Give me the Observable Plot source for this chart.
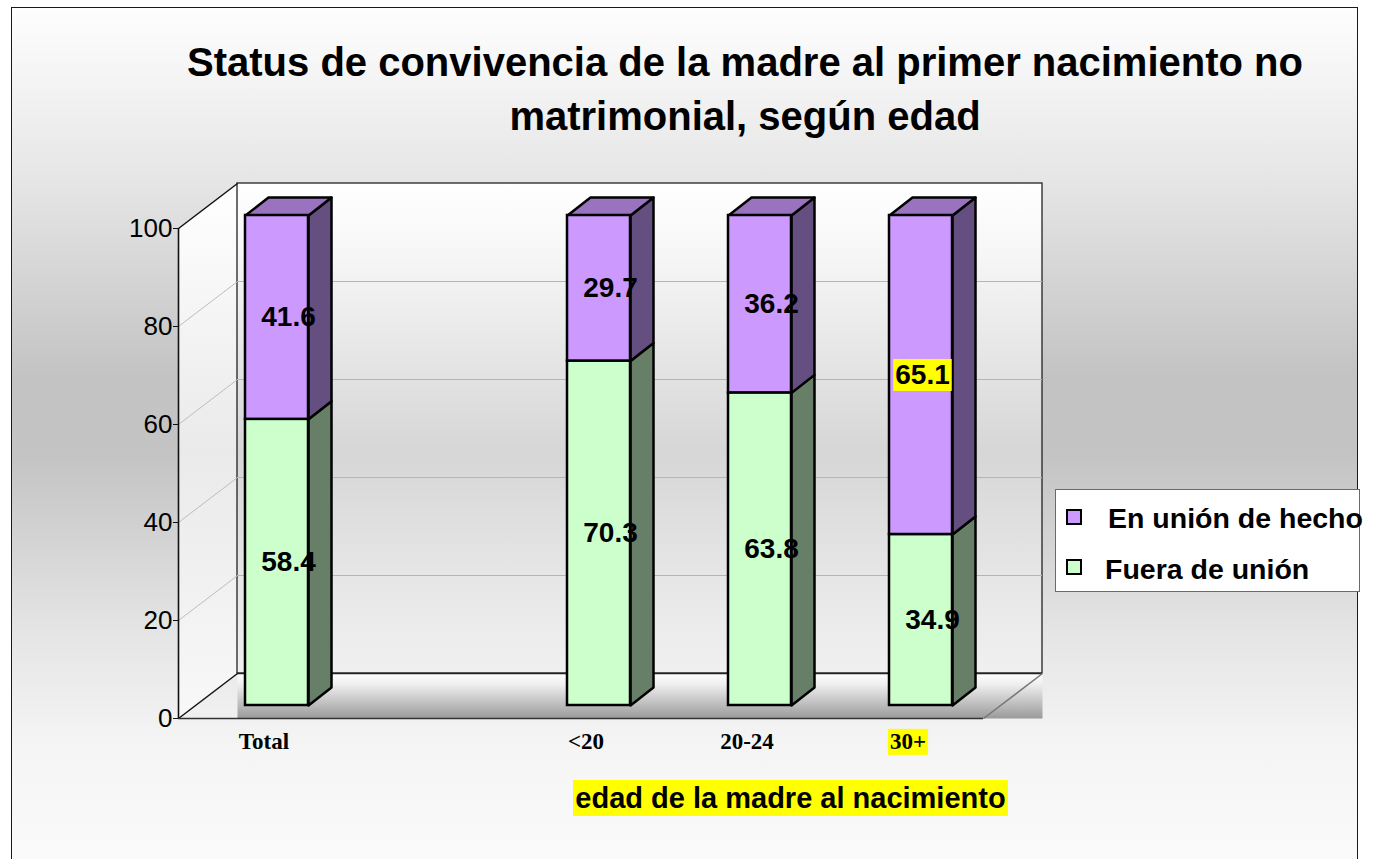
<!DOCTYPE html>
<html>
<head>
<meta charset="utf-8">
<script src="https://cdn.jsdelivr.net/npm/d3@7"></script>
<script src="https://cdn.jsdelivr.net/npm/@observablehq/plot@0.6"></script>
<style>
  html, body { margin: 0; padding: 0; background: #fff; }
  #wrap { position: relative; width: 1380px; height: 859px; overflow: hidden; background: #fff;
          font-family: "Liberation Sans", Arial, sans-serif; }
  #frame { position: absolute; left: 11px; top: 7px; width: 1347px; height: 900px;
           border: 1.5px solid #1a1a1a; box-sizing: border-box;
           background: linear-gradient(to bottom, #fefefe 0px, #e6e6e6 170px, #c3c3c3 370px, #c4c4c4 450px, #e4e4e4 620px, #f5f5f5 740px, #fafafa 852px); }
  #chart { position: absolute; left: 0; top: 0; }
  #title { position: absolute; left: 0; top: 35px; width: 1490px; text-align: center;
           font-size: 40px; line-height: 54px; font-weight: bold; color: #000; }
  #legend { position: absolute; left: 1055px; top: 489px; width: 305px; height: 103px;
            box-sizing: border-box; border: 1px solid #6a6a6a; background: #fff; overflow: visible; }
  .lg-item { position: absolute; white-space: nowrap; font-size: 28.5px; font-weight: bold; line-height: 32px; }
  .lg-sw { position: absolute; width: 12px; height: 12px; border: 2px solid #000; }
  #xtitle { position: absolute; left: 573px; top: 780px; width: 435px; height: 36px; background: #ffff00;
            text-align: center; font-size: 29px; line-height: 36px; font-weight: bold; white-space: nowrap; }
</style>
</head>
<body>
<div id="wrap">
  <div id="frame"></div>
  <div id="chart"></div>
  <div id="title"></div>
  <div id="legend"></div>
  <div id="xtitle"></div>
</div>
<script>
// ---------- data ----------
const categories = ["Total", "", "<20", "20-24", "30+"];
const fueraDeUnion = [58.4, null, 70.3, 63.8, 34.9];
const enUnionDeHecho = [41.6, null, 29.7, 36.2, 65.1];
const yTicks = [0, 20, 40, 60, 80, 100];
const seriesNames = ["En unión de hecho", "Fuera de unión"];
const highlightCategories = ["30+"];
const highlightValues = [65.1];
const titleLines = ["Status de convivencia de la madre al primer nacimiento no", "matrimonial, según edad"];
const xTitle = "edad de la madre al nacimiento";

// ---------- styles ----------
const palette = {
  union: { front: "#CC99FF", side: "#654E80", top: "#9973C0" },
  fuera: { front: "#CCFFCC", side: "#667F66", top: "#99BF99" }
};

const W = 1380, H = 859, mL = 178, mR = 397, mT = 228, mB = 141;
const xDomain = [-0.5, categories.length - 0.5];
const KX = (W - mL - mR) / (xDomain[1] - xDomain[0]);   // px per category unit
const KY = (H - mT - mB) / 100;                          // px per value unit
// 3D geometry in pixels
const WALL_DX = 59, WALL_DY = 45;   // depth of floor / back wall
const BAR_OX = 18, BAR_OY = 13;     // bar front offset from front plane
const BAR_DX = 23, BAR_DY = 18;     // bar depth
const BAR_HALF = 31.5;              // half width of bar front face

const wx = WALL_DX / KX, wy = WALL_DY / KY;
const hw = BAR_HALF / KX, bd = BAR_DX / KX, be = BAR_DY / KY;

// ---------- derived geometry ----------
const segs = [];
categories.forEach((c, i) => {
  if (fueraDeUnion[i] == null) return;
  const f = fueraDeUnion[i], u = enUnionDeHecho[i];
  segs.push({ i, cat: c, series: "fuera", y0: 0, y1: f, value: f, isTop: false });
  segs.push({ i, cat: c, series: "union", y0: f, y1: f + u, value: u, isTop: true });
});

function sidePoly(s) {
  const xr = s.i + hw, k = s.cat + s.series;
  return [[xr, s.y0], [xr + bd, s.y0 + be], [xr + bd, s.y1 + be], [xr, s.y1], [xr, s.y0]]
    .map(([x, y]) => ({ x, y, k }));
}
function topPoly(s) {
  const xl = s.i - hw, xr = s.i + hw, k = s.cat + "top";
  return [[xl, s.y1], [xr, s.y1], [xr + bd, s.y1 + be], [xl + bd, s.y1 + be], [xl, s.y1]]
    .map(([x, y]) => ({ x, y, k }));
}
const sides = (ser) => segs.filter(s => s.series === ser).flatMap(sidePoly);
const tops = (ser) => segs.filter(s => s.series === ser && s.isTop).flatMap(topPoly);

const x0 = xDomain[0], x1 = xDomain[1];
const sideWall = [[x0, 0], [x0 + wx, wy], [x0 + wx, 100 + wy], [x0, 100]].map(([x, y]) => ({ x, y }));
const floorShade = [[x0 + wx, wy], [x1 + wx, wy], [x1 + wx, 0], [x0 + wx, 0]].map(([x, y]) => ({ x, y }));
const innerTicks = yTicks.filter(v => v > 0 && v < 100);
const edgeTicks = yTicks.filter(v => v === 0 || v === 100);

const tickData = categories.map((c, i) => ({ i, c })).filter(d => d.c !== "");
const labelText = d => d.value.toFixed(1);
const isHL = d => highlightValues.includes(d.value);

const frontMark = (ser) => Plot.rect(segs.filter(s => s.series === ser), {
  x1: d => d.i - hw, x2: d => d.i + hw, y1: "y0", y2: "y1",
  dx: BAR_OX, dy: -BAR_OY, fill: palette[ser].front, stroke: "#000", strokeWidth: 2.5
});
const polyMark = (pts, fill) => Plot.line(pts, {
  x: "x", y: "y", z: "k", dx: BAR_OX, dy: -BAR_OY, fill, stroke: "#000", strokeWidth: 2.5, strokeLinejoin: "round"
});

const chart = Plot.plot({
  width: W, height: H,
  marginLeft: mL, marginRight: mR, marginTop: mT, marginBottom: mB,
  x: { type: "linear", domain: xDomain, axis: null },
  y: { domain: [0, 100], axis: null },
  style: { background: "transparent", fontFamily: "'Liberation Sans', Arial, sans-serif", overflow: "visible" },
  marks: [
    Plot.line(sideWall, { x: "x", y: "y", fill: "url(#gSide)", stroke: "none" }),
    Plot.rect([0], { x1: x0, x2: x1, y1: 0, y2: 100, dx: WALL_DX, dy: -WALL_DY, fill: "url(#gBack)", stroke: "#222", strokeWidth: 1.3 }),
    Plot.line(floorShade, { x: "x", y: "y", fill: "url(#gFloor)", stroke: "none" }),
    Plot.ruleY([0], { x1: x0, x2: x1, dx: WALL_DX, dy: -WALL_DY, stroke: "#222", strokeWidth: 1.5 }),
    Plot.ruleY(innerTicks, { x1: x0, x2: x1, dx: WALL_DX, dy: -WALL_DY, stroke: "#b5b5b5", strokeWidth: 1 }),
    Plot.link(innerTicks, { x1: x0, y1: d => d, x2: x0 + wx, y2: d => d + wy, stroke: "#bdbdbd", strokeWidth: 1 }),
    Plot.link(edgeTicks, { x1: x0, y1: d => d, x2: x0 + wx, y2: d => d + wy, stroke: "#111", strokeWidth: 1.5 }),
    Plot.link([0], { x1: x1, y1: 0, x2: x1 + wx, y2: wy, stroke: "#777", strokeWidth: 1.5 }),
    Plot.ruleY([0], { x1: x0, x2: x1, stroke: "#333", strokeWidth: 1.6 }),
    Plot.ruleX([x0], { y1: 0, y2: 100, stroke: "#111", strokeWidth: 1.6 }),
    Plot.axisY(yTicks, { tickSize: 5, tickPadding: 1, fontSize: 26, label: null, stroke: "#111" }),
    // bars
    polyMark(sides("fuera"), palette.fuera.side),
    polyMark(sides("union"), palette.union.side),
    polyMark(tops("union"), palette.union.top),
    frontMark("fuera"),
    frontMark("union"),
    // value labels
    Plot.text(segs.filter(d => !isHL(d)), {
      x: "i", y: d => (d.y0 + d.y1) / 2, text: labelText, dx: BAR_OX + BAR_DX / 2, dy: -BAR_OY,
      fontSize: 28, fontWeight: "bold", fill: "#000"
    }),
    Plot.text(segs.filter(isHL), {
      x: "i", y: d => (d.y0 + d.y1) / 2, text: labelText, dx: BAR_OX + BAR_DX / 2 - 10, dy: -BAR_OY,
      fontSize: 28, fontWeight: "bold", fill: "#000"
    }),
    // category labels
    Plot.text(tickData, {
      x: "i", y: 0, text: "c", dx: 5, dy: 23, fontSize: 23, fontWeight: "bold",
      fontFamily: "'Liberation Serif', 'Times New Roman', serif", fill: "#000"
    })
  ]
});

document.getElementById("chart").appendChild(chart);

// gradients
const NS = "http://www.w3.org/2000/svg";
const defs = document.createElementNS(NS, "defs");
function grad(id, stops) {
  const g = document.createElementNS(NS, "linearGradient");
  g.setAttribute("id", id); g.setAttribute("x1", "0"); g.setAttribute("y1", "0");
  g.setAttribute("x2", "0"); g.setAttribute("y2", "1");
  stops.forEach(([o, c]) => {
    const s = document.createElementNS(NS, "stop");
    s.setAttribute("offset", o); s.setAttribute("stop-color", c);
    g.appendChild(s);
  });
  defs.appendChild(g);
}
grad("gBack", [[0, "#ffffff"], [0.15, "#f6f6f6"], [0.55, "#d6d6d6"], [0.8, "#e6e6e6"], [1, "#f0f0f0"]]);
grad("gSide", [[0, "#ffffff"], [0.5, "#eaeaea"], [1, "#f8f8f8"]]);
grad("gFloor", [[0, "#ffffff"], [0.25, "#eeeeee"], [1, "#9a9a9a"]]);
chart.insertBefore(defs, chart.firstChild);

// yellow highlight boxes behind highlighted texts
const hlTexts = new Set([...highlightCategories, ...highlightValues.map(v => v.toFixed(1))]);
chart.querySelectorAll("text").forEach(t => {
  if (!hlTexts.has(t.textContent.trim())) return;
  const b = t.getBBox();
  const r = document.createElementNS(NS, "rect");
  const p = 2;
  r.setAttribute("x", b.x - p); r.setAttribute("y", b.y);
  r.setAttribute("width", b.width + 2 * p); r.setAttribute("height", b.height + 1);
  r.setAttribute("fill", "#ffff00");
  const tr = t.getAttribute("transform"); if (tr) r.setAttribute("transform", tr);
  t.parentNode.insertBefore(r, t);
});

// title
document.getElementById("title").innerHTML = titleLines.join("<br>");
document.getElementById("xtitle").textContent = xTitle;

// legend
const legend = document.getElementById("legend");
const legendColors = [palette.union.front, palette.fuera.front];
const legendPos = [{ sw: 19, tx: 52, ty: 12 }, { sw: 69, tx: 49, ty: 63 }];
seriesNames.forEach((name, k) => {
  const sw = document.createElement("div");
  sw.className = "lg-sw";
  sw.style.left = "10px"; sw.style.top = legendPos[k].sw + "px";
  sw.style.background = legendColors[k];
  legend.appendChild(sw);
  const tx = document.createElement("div");
  tx.className = "lg-item";
  tx.style.left = legendPos[k].tx + "px"; tx.style.top = legendPos[k].ty + "px";
  tx.textContent = name;
  legend.appendChild(tx);
});
</script>
</body>
</html>
